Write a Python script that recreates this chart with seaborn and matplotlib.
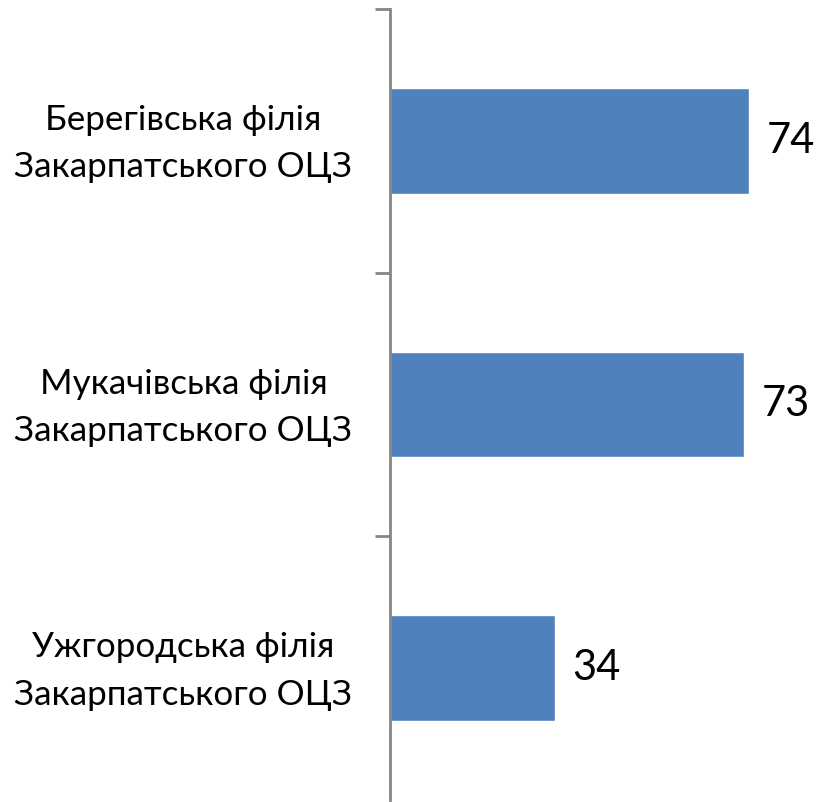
import numpy as np
import pandas as pd
import matplotlib.pyplot as plt
import matplotlib.transforms as mtransforms
import seaborn as sns

# chart data
branches = ['Берегівська філія\nЗакарпатського ОЦЗ',
            'Мукачівська філія\nЗакарпатського ОЦЗ',
            'Ужгородська філія\nЗакарпатського ОЦЗ']
counts = [74, 73, 34]

df = pd.DataFrame({'branch': branches, 'count': counts})

sns.set_theme(style='white')
plt.rcParams['font.family'] = ['Lato', 'DejaVu Sans']

fig = plt.figure(figsize=(8.17, 8.02), dpi=100)
ax = fig.add_axes([390 / 817, 2 / 802, 427 / 817, 791 / 802])

sns.barplot(data=df, x='count', y='branch', orient='h', color='#4F81BD',
            saturation=1, width=0.4, ax=ax)

ax.set_xlim(0, 88)
ax.set_ylim(2.5, -0.5)
ax.set_xlabel('')
ax.set_ylabel('')
ax.set_xticks([])

# category labels on major ticks, tick marks on band boundaries
ax.set_yticks(range(len(branches)))
ax.set_yticklabels(branches, fontsize=25.2, linespacing=1.6, ha='right',
                   multialignment='center', color='black')
ax.tick_params(axis='y', which='major', length=0, pad=27)
ax.set_yticks([-0.5, 0.5, 1.5], minor=True)
ax.tick_params(axis='y', which='minor', left=True, length=11, width=2, color='#868686')

# labels sit a little above bar centre in the original
shift = mtransforms.ScaledTranslation(0, 8 / 100, fig.dpi_scale_trans)
for lbl in ax.get_yticklabels():
    lbl.set_transform(lbl.get_transform() + shift)

for s in ['top', 'right', 'bottom']:
    ax.spines[s].set_visible(False)
ax.spines['left'].set_color('#868686')
ax.spines['left'].set_linewidth(2)

for i, v in enumerate(counts):
    ax.text(v + 3.6, i, str(v), va='center', ha='left', fontsize=30, color='black')

fig.savefig('out.png', dpi=100)
